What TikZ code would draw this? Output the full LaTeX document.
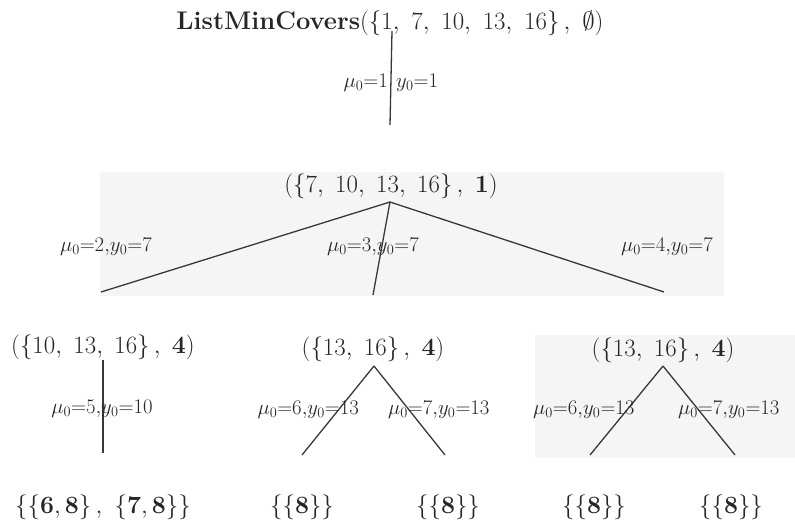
\documentclass[tikz,border=0pt]{standalone}
\usepackage{amsmath,amssymb}
\begin{document}
\begin{tikzpicture}[x=1pt,y=-1pt,
  txt/.style={inner sep=0pt, text=black!85, font=\fontsize{24}{28}\selectfont},
  ttl/.style={inner sep=0pt, text=black!85, font=\fontsize{25.5}{30}\selectfont},
  leaf/.style={inner sep=0pt, text=black!85, font=\fontsize{27}{32}\selectfont},
  lbl/.style={inner sep=0pt, text=black!85, font=\fontsize{19.5}{23}\selectfont},
  edge/.style={draw=black!78, line width=1.3pt},
  bg/.style={fill=black!4, draw=none}]
\useasboundingbox (0,0) rectangle (795,530);
\fill[bg] (100,172) rectangle (724,296);
\fill[bg] (535,335) rectangle (795,458);
% level 1
\node[ttl] (t1) at (390,23) {\textbf{ListMinCovers}$(\{1,\ 7,\ 10,\ 13,\ 16\}\,,\ \emptyset)$};
\coordinate (a1) at (392,31);
\coordinate (e11) at (390,125);
\draw[edge] (a1) -- (e11);
\node[lbl,anchor=east] (l11) at (388,83) {$\mu_0{=}1$};
\node[lbl,anchor=west] (l12) at (396,83) {$y_0{=}1$};
% level 2
\node[txt] (t2) at (391,186) {$(\{7,\ 10,\ 13,\ 16\}\,,\ \mathbf{1})$};
\coordinate (a2) at (390,202);
\coordinate (e21) at (101,292);
\coordinate (e22) at (373,295);
\coordinate (e23) at (664,292);
\draw[edge] (a2) -- (e21);
\draw[edge] (a2) -- (e22);
\draw[edge] (a2) -- (e23);
\node[lbl,anchor=east] (l21) at (152,247) {$\mu_0{=}2{,}y_0{=}7$};
\node[lbl] (l22) at (373,247) {$\mu_0{=}3{,}y_0{=}7$};
\node[lbl] (l23) at (667,247) {$\mu_0{=}4{,}y_0{=}7$};
% level 3 left
\node[txt] (t31) at (103,347) {$(\{10,\ 13,\ 16\}\,,\ \mathbf{4})$};
\coordinate (a31) at (103,360);
\coordinate (e31) at (103,453);
\draw[edge] (a31) -- (e31);
\node[lbl] (l31) at (102,409) {$\mu_0{=}5{,}y_0{=}10$};
% level 3 middle
\node[txt] (t32) at (373,349) {$(\{13,\ 16\}\,,\ \mathbf{4})$};
\coordinate (a32) at (374,366);
\coordinate (e32a) at (302,455);
\coordinate (e32b) at (445,455);
\draw[edge] (a32) -- (e32a);
\draw[edge] (a32) -- (e32b);
\node[lbl,anchor=east] (l32a) at (359,410) {$\mu_0{=}6{,}y_0{=}13$};
\node[lbl,anchor=west] (l32b) at (388,410) {$\mu_0{=}7{,}y_0{=}13$};
% level 3 right
\node[txt] (t33) at (663,350) {$(\{13,\ 16\}\,,\ \mathbf{4})$};
\coordinate (a33) at (663,366);
\coordinate (e33a) at (590,455);
\coordinate (e33b) at (735,455);
\draw[edge] (a33) -- (e33a);
\draw[edge] (a33) -- (e33b);
\node[lbl,anchor=west] (l33a) at (533,410) {$\mu_0{=}6{,}y_0{=}13$};
\node[lbl,anchor=west] (l33b) at (678,410) {$\mu_0{=}7{,}y_0{=}13$};
% leaves
\node[leaf] (r1) at (103,507) {$\{\{\mathbf{6},\mathbf{8}\}\,,\ \{\mathbf{7},\mathbf{8}\}\}$};
\node[leaf] (r2) at (302,507) {$\{\{\mathbf{8}\}\}$};
\node[leaf] (r3) at (448,507) {$\{\{\mathbf{8}\}\}$};
\node[leaf] (r4) at (594,507) {$\{\{\mathbf{8}\}\}$};
\node[leaf] (r5) at (731,507) {$\{\{\mathbf{8}\}\}$};
\end{tikzpicture}
\end{document}
